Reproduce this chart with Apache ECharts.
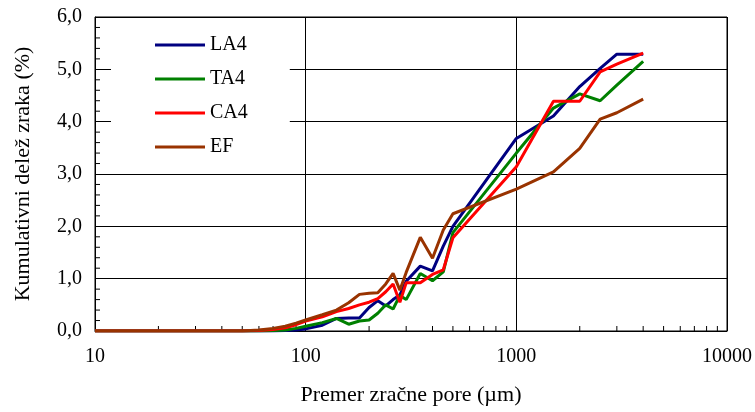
<!DOCTYPE html>
<html>
<head>
<meta charset="utf-8">
<script src="https://cdn.jsdelivr.net/npm/echarts@6/dist/echarts.min.js"></script>
<style>html,body{margin:0;padding:0;background:#fff}#c{width:755px;height:412px}</style>
</head>
<body>
<div id="c"></div>
<script>
// Pore diameter (µm)
var poreSizes = [10, 20, 30, 40, 50, 60, 70, 80, 90, 100, 120, 140, 160, 180, 200, 220, 240, 260, 280, 300, 350, 400, 450, 500, 1000, 1500, 2000, 2500, 3000, 4000];
var LA4 = [0, 0, 0, 0, 0, 0, 0, 0.01, 0.02, 0.04, 0.11, 0.24, 0.25, 0.25, 0.45, 0.58, 0.48, 0.6, 0.69, 0.95, 1.24, 1.15, 1.62, 2.0, 3.68, 4.11, 4.67, 5.02, 5.29, 5.29];
var TA4 = [0, 0, 0, 0, 0, 0, 0.01, 0.02, 0.05, 0.09, 0.16, 0.24, 0.13, 0.19, 0.21, 0.34, 0.5, 0.42, 0.68, 0.6, 1.1, 0.96, 1.13, 1.88, 3.4, 4.26, 4.53, 4.4, 4.7, 5.15];
var CA4 = [0, 0, 0, 0, 0, 0.01, 0.03, 0.06, 0.12, 0.19, 0.27, 0.37, 0.43, 0.5, 0.55, 0.62, 0.75, 0.9, 0.55, 0.92, 0.92, 1.08, 1.17, 1.78, 3.14, 4.39, 4.39, 4.95, 5.1, 5.31];
var EF  = [0, 0, 0, 0, 0, 0.02, 0.05, 0.09, 0.15, 0.21, 0.31, 0.4, 0.54, 0.7, 0.72, 0.73, 0.9, 1.1, 0.78, 1.12, 1.79, 1.39, 1.93, 2.24, 2.71, 3.04, 3.49, 4.05, 4.17, 4.43];
var seriesNames = ['LA4', 'TA4', 'CA4', 'EF'];
var seriesValues = [LA4, TA4, CA4, EF];
var seriesColors = ['#000080', '#008000', '#FF0000', '#993300'];
var xMinorTicks = [20, 30, 40, 50, 60, 70, 80, 90, 200, 300, 400, 500, 600, 700, 800, 900, 2000, 3000, 4000, 5000, 6000, 7000, 8000, 9000];
var yMinorTicks = [0.2, 0.4, 0.6, 0.8, 1.2, 1.4, 1.6, 1.8, 2.2, 2.4, 2.6, 2.8, 3.2, 3.4, 3.6, 3.8, 4.2, 4.4, 4.6, 4.8, 5.2, 5.4, 5.6, 5.8];

var FONT = 'Liberation Serif';
var chart = echarts.init(document.getElementById('c'), null, {renderer: 'canvas'});

var series = seriesNames.map(function (n, i) {
  return {
    name: n, type: 'line', showSymbol: false, symbol: 'none',
    lineStyle: {width: 3, color: seriesColors[i]}, itemStyle: {color: seriesColors[i]},
    data: poreSizes.map(function (x, k) { return [x, seriesValues[i][k]]; }),
    z: 3
  };
});
series.push({
  type: 'custom', silent: true, z: 2,
  data: xMinorTicks.map(function (v) { return [v, 0]; }),
  renderItem: function (params, api) {
    var p = api.coord([api.value(0), 0]);
    return {type: 'line', shape: {x1: p[0], y1: p[1], x2: p[0], y2: p[1] - 5}, style: {stroke: '#000', lineWidth: 1}};
  }
});
series.push({
  type: 'custom', silent: true, z: 2,
  data: yMinorTicks.map(function (v) { return [10, v]; }),
  renderItem: function (params, api) {
    var p = api.coord([10, api.value(1)]);
    return {type: 'line', shape: {x1: p[0], y1: p[1], x2: p[0] + 5, y2: p[1]}, style: {stroke: '#000', lineWidth: 1}};
  }
});

chart.setOption({
  animation: false,
  backgroundColor: '#fff',
  grid: {left: 95, right: 27, top: 17, bottom: 81, show: true, borderColor: '#000', borderWidth: 1, backgroundColor: 'transparent'},
  legend: {
    data: seriesNames, orient: 'vertical', left: 111, top: 18,
    padding: [17, 42, 7, 44], backgroundColor: '#fff',
    itemWidth: 50, itemHeight: 3, itemGap: 14, icon: 'rect',
    textStyle: {fontFamily: FONT, fontSize: 20, lineHeight: 20, color: '#000'},
    z: 10
  },
  xAxis: {
    type: 'log', logBase: 10, min: 10, max: 10000,
    name: 'Premer zračne pore (µm)', nameLocation: 'middle', nameGap: 53,
    nameTextStyle: {fontFamily: FONT, fontSize: 22, color: '#000'},
    axisLine: {lineStyle: {color: '#000', width: 1}},
    axisTick: {show: false},
    axisLabel: {fontFamily: FONT, fontSize: 20, color: '#000', margin: 16,
      formatter: function (v) { return String(Math.round(v)); }},
    splitLine: {show: true, lineStyle: {color: '#000', width: 1}},
    minorTick: {show: false}
  },
  yAxis: {
    type: 'value', min: 0, max: 6, interval: 1,
    name: 'Kumulativni delež zraka (%)', nameLocation: 'middle', nameGap: 61,
    nameTextStyle: {fontFamily: FONT, fontSize: 22, color: '#000'},
    axisLine: {show: true, lineStyle: {color: '#000', width: 1}},
    axisTick: {show: false},
    axisLabel: {fontFamily: FONT, fontSize: 20, color: '#000', margin: 13,
      formatter: function (v) { return v.toFixed(1).replace('.', ','); }},
    splitLine: {show: true, lineStyle: {color: '#000', width: 1}}
  },
  series: series
});
</script>
</body>
</html>
